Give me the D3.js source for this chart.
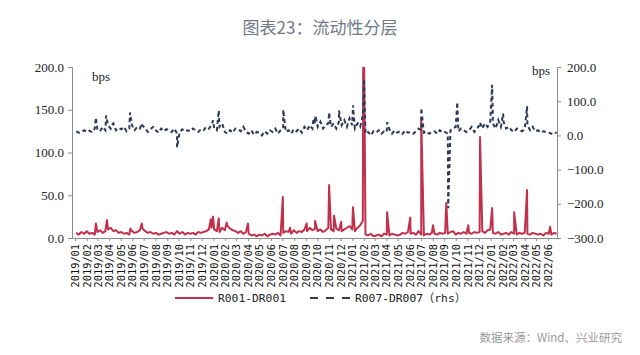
<!DOCTYPE html>
<html><head><meta charset="utf-8">
<script src="https://cdn.jsdelivr.net/npm/d3@7"></script>
<style>body{margin:0;background:#fff}</style>
</head><body><svg id="c" width="640" height="355"></svg>
<script>
// ---- data (weekly readings, Friday of each week from 2019-01-04) ----
const redWeekly = [
 // 2019
 6,4,7,5, 8,5,6,4, 7,9,6,8,10, 12,8,9,6, 7,5,6,4,8, 6,7,9,11, 8,6,7,5, 6,4,5,6,7, 5,6,4,8, 5,7,4,6, 5,6,4,7,6, 7,8,10,12,
 // 2020
 10,8,7,12,9, 14,11,9,8, 6,8,5,7, 5,3,4,2, 4,3,5,2,4, 5,4,6,3, 6,8,7,5,9, 6,8,7,10, 8,12,9,11, 8,10,7,9,12, 10,8,11,9, 8,10,12,14,
 // 2021
 10,8,12,15,20, 4,3,5,2, 3,4,2,5, 4,3,5,4,3, 4,6,5,7, 5,6,4,8, 4,3,5,4,6, 5,4,6,5, 6,5,7,8, 4,6,5,7,5, 6,5,7,6, 7,8,6,9,10,
 // 2022
 6,5,7,4, 5,6,4,7, 5,4,6,5, 6,5,4,6,5, 4,5,3,6, 5,4,6,5
];
const blueWeekly = [
 // 2019
 12,8,10,15, 10,14,9,20, 18,12,25,15,30, 20,35,15,22, 18,25,12,20,30, 15,25,20,28, 22,10,18,25, 15,8,20,12,18, 15,10,20,5, 10,18,12,15, 12,20,15,10,18, 15,25,20,30,
 // 2020
 20,15,25,35,10, 5,15,8,20, 18,12,25,10, 5,15,2,10, 8,0,12,5,15, 10,20,5,15, 20,10,15,5,18, 12,20,8,25, 15,30,20,35, 25,40,20,30,35, 25,35,20,40, 30,45,25,50,
 // 2021
 30,20,35,25,60, 5,10,0,12, 8,15,5,12, 10,18,5,15,8, 12,5,15,8, 10,5,12,20, 15,8,12,5,10, 12,5,15,8, 10,5,15,20, 25,12,20,15,10, 15,25,10,20, 30,20,35,25,40,
 // 2022
 35,20,45,25, 40,20,25,15, 10,20,15,12, 20,30,15,25,12, 15,8,12,10, 8,5,10,6
];
const redSpikes = [
 ["2019-02-25",17],["2019-03-26",21],["2019-05-27",11],["2019-06-26",17],
 ["2019-12-25",22],["2019-12-31",25],["2020-01-15",23],["2020-02-05",18],["2020-04-01",17],
 ["2020-07-02",48],["2020-07-21",12],["2020-09-03",17],["2020-09-25",20],
 ["2020-11-01",62],["2020-11-14",26],["2020-12-03",19],["2021-01-03",36],
 ["2021-01-30",230],["2021-02-01",230],
 ["2021-04-03",30],["2021-06-03",24],["2021-07-02",140],["2021-08-02",15],["2021-09-06",41],
 ["2021-11-03",15],["2021-12-04",118],["2022-01-05",35],["2022-03-04",30],["2022-04-07",56],["2022-06-07",13]
];
const blueSpikes = [
 ["2019-02-25",52],["2019-03-24",58],["2019-04-08",30],["2019-05-26",67],["2019-06-26",35],["2019-09-27",-35],
 ["2019-12-31",44],["2020-01-15",73],["2020-07-03",75],["2020-09-21",50],["2020-09-26",58],
 ["2020-11-01",67],["2020-11-27",73],["2021-01-03",88],["2021-02-01",165],["2021-04-03",38],
 ["2021-07-02",80],["2021-09-11",-213],["2021-10-05",97],["2021-12-04",38],["2022-01-05",148],["2022-02-03",64],["2022-04-07",85]
];
const leftTicks = [0,50,100,150,200];
const rightTicks = [-300,-200,-100,0,100,200];
const seriesNames = ["R001-DR001","R007-DR007（rhs）"];
const titleText = "图表23：流动性分层";
const sourceText = "数据来源：Wind、兴业研究";

// ---- layout ----
const red = "#c2314b", blue = "#2e3a57", axisCol = "#8c8c8c";
const L = 72, R = 557, T = 67, B = 238;
const svg = d3.select("#c");
const parse = d3.timeParse("%Y-%m-%d");

const weeks = d3.timeFriday.range(new Date(2019,0,4), new Date(2022,5,25));
function build(weekly, spikes){
  const n = Math.min(weeks.length, weekly.length);
  const arr = [];
  for(let i=0;i<n;i++) arr.push({date:weeks[i], v:weekly[i]});
  spikes.forEach(s=>arr.push({date:parse(s[0]), v:s[1]}));
  return arr.sort((a,b)=>a.date-b.date);
}
const redData = build(redWeekly, redSpikes);
const blueData = build(blueWeekly, blueSpikes);

const x = d3.scaleTime().domain([new Date(2018,11,24), new Date(2022,5,25)]).range([L,R]);
const yL = d3.scaleLinear().domain([0,200]).range([B,T]);
const yR = d3.scaleLinear().domain([-300,200]).range([B,T]);

svg.append("defs").append("clipPath").attr("id","clip")
  .append("rect").attr("x",L).attr("y",T).attr("width",R-L).attr("height",B-T+3);

// title
svg.append("text").attr("x",320).attr("y",34).attr("text-anchor","middle")
  .attr("font-family","'Noto Sans CJK SC'").attr("font-size",17).attr("fill","#6f7987")
  .text(titleText);

// axes
const fmt = d3.format(".1f");
const gL = svg.append("g").attr("transform",`translate(${L},0)`)
  .call(d3.axisLeft(yL).tickValues(leftTicks).tickFormat(fmt).tickSize(4).tickPadding(4));
const gR = svg.append("g").attr("transform",`translate(${R},0)`)
  .call(d3.axisRight(yR).tickValues(rightTicks).tickFormat(fmt).tickSize(4).tickPadding(6));
[gL,gR].forEach(g=>{
  g.select(".domain").attr("stroke",axisCol);
  g.selectAll(".tick line").attr("stroke",axisCol);
  g.selectAll("text").attr("font-family","'Liberation Serif'").attr("font-size",13).attr("fill","#222");
});
const months = d3.timeMonth.range(new Date(2019,0,1), new Date(2022,6,1));
const gB = svg.append("g").attr("transform",`translate(0,${B})`)
  .call(d3.axisBottom(x).tickValues(months).tickFormat(d3.timeFormat("%Y/%m")).tickSize(3).tickSizeOuter(0));
gB.select(".domain").attr("stroke",axisCol);
gB.selectAll(".tick line").attr("stroke",axisCol);
gB.selectAll("text").attr("font-family","'DejaVu Sans Mono'").attr("font-size",10.3).attr("fill","#111")
  .attr("transform","rotate(-90)").attr("text-anchor","end")
  .attr("x",-6).attr("y",0).attr("dy","0.35em");

// bps labels
svg.append("text").attr("x",92).attr("y",81).attr("font-family","'Liberation Serif'").attr("font-size",13).attr("fill","#222").text("bps");
svg.append("text").attr("x",532).attr("y",75).attr("font-family","'Liberation Serif'").attr("font-size",13).attr("fill","#222").text("bps");

// lines
const plot = svg.append("g").attr("clip-path","url(#clip)");
plot.append("path").datum(redData)
  .attr("d", d3.line().x(d=>x(d.date)).y(d=>yL(d.v)))
  .attr("fill","none").attr("stroke",red).attr("stroke-width",2).attr("stroke-linejoin","round");
plot.append("path").datum(blueData)
  .attr("d", d3.line().x(d=>x(d.date)).y(d=>yR(d.v)))
  .attr("fill","none").attr("stroke",blue).attr("stroke-width",2).attr("stroke-dasharray","4,3");

// legend
const lg = svg.append("g");
lg.append("line").attr("x1",175).attr("x2",213).attr("y1",298).attr("y2",298).attr("stroke",red).attr("stroke-width",2);
lg.append("text").attr("x",218).attr("y",302).attr("font-family","'DejaVu Sans Mono','Noto Sans CJK SC'").attr("font-size",11.3).attr("fill","#222").text(seriesNames[0]);
lg.append("line").attr("x1",310).attr("x2",352).attr("y1",298).attr("y2",298).attr("stroke",blue).attr("stroke-width",2).attr("stroke-dasharray","8,8");
lg.append("text").attr("x",355).attr("y",302).attr("font-family","'DejaVu Sans Mono','Noto Sans CJK SC'").attr("font-size",11.3).attr("fill","#222").text(seriesNames[1]);

// source
svg.append("text").attr("x",622).attr("y",342).attr("text-anchor","end")
  .attr("font-family","'Noto Sans CJK SC'").attr("font-size",11.5).attr("fill","#9a9a9a").text(sourceText);
</script>
</body></html>
